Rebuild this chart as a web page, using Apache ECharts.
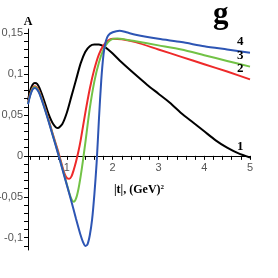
<!DOCTYPE html>
<html><head><meta charset="utf-8">
<script src="https://cdn.jsdelivr.net/npm/echarts@6/dist/echarts.min.js"></script>
<style>html,body{margin:0;padding:0;background:#fff}#c{width:278px;height:278px}</style>
</head><body><div id="c"></div>
<script>
const blackX = [0.15,0.2,0.25,0.3,0.35,0.4,0.5,0.6,0.7,0.8,0.9,1.0,1.1,1.2,1.3,1.4,1.5,1.6,1.7,1.8,1.9,2.0,2.2,2.5,2.75,3.0,3.25,3.5,3.75,4.0,4.25,4.5,4.75,5.0];
const blackY = [0.068,0.080,0.087,0.089,0.088,0.083,0.068,0.051,0.039,0.034,0.039,0.053,0.073,0.093,0.113,0.127,0.134,0.136,0.136,0.134,0.130,0.125,0.114,0.099,0.087,0.076,0.065,0.052,0.041,0.030,0.019,0.010,0.003,-0.002];
const redX = [0.15,0.2,0.25,0.3,0.35,0.4,0.5,0.6,0.7,0.8,0.85,0.9,0.95,1.0,1.05,1.1,1.15,1.2,1.25,1.3,1.4,1.5,1.6,1.7,1.8,1.9,2.0,2.2,2.5,3.0,3.5,4.0,4.5,5.0];
const redY = [0.065,0.076,0.083,0.085,0.083,0.078,0.062,0.044,0.025,0.007,-0.003,-0.013,-0.022,-0.027,-0.028,-0.025,-0.017,-0.007,0.005,0.019,0.052,0.082,0.106,0.124,0.135,0.141,0.143,0.1425,0.139,0.130,0.121,0.112,0.103,0.0935];
const greenX = [0.15,0.2,0.25,0.3,0.35,0.4,0.5,0.6,0.7,0.8,0.9,1.0,1.05,1.1,1.15,1.2,1.25,1.3,1.35,1.4,1.5,1.6,1.7,1.8,1.9,2.0,2.1,2.3,2.5,3.0,3.5,4.0,4.5,5.0];
const greenY = [0.064,0.075,0.082,0.084,0.082,0.077,0.061,0.043,0.024,0.005,-0.015,-0.035,-0.045,-0.053,-0.056,-0.052,-0.041,-0.025,-0.006,0.015,0.058,0.091,0.114,0.130,0.139,0.143,0.1435,0.142,0.140,0.135,0.130,0.123,0.116,0.109];
const blueX = [0.15,0.2,0.25,0.3,0.35,0.4,0.5,0.6,0.7,0.8,0.9,1.0,1.1,1.2,1.3,1.35,1.4,1.45,1.5,1.55,1.6,1.65,1.7,1.75,1.8,1.85,1.9,2.0,2.15,2.3,2.5,3.0,3.5,4.0,4.5,5.0];
const blueY = [0.063,0.074,0.081,0.083,0.081,0.076,0.060,0.042,0.023,0.004,-0.016,-0.036,-0.056,-0.077,-0.097,-0.105,-0.110,-0.108,-0.097,-0.078,-0.047,-0.008,0.045,0.092,0.124,0.140,0.147,0.151,0.153,0.151,0.148,0.143,0.139,0.134,0.130,0.126];
const xLabels = [1,2,3,4,5];
const yLabels = [-0.1,-0.05,0,0.05,0.1,0.15];
const curveNames = ['1','2','3','4'];

const xTicks = []; for (let i = 1; i <= 25; i++) xTicks.push(+(i*0.2).toFixed(2));
const yTicks = []; for (let i = -11; i <= 15; i++) yTicks.push(+(i*0.01).toFixed(2));
const zip = (a,b) => a.map((v,i)=>[v,b[i]]);
const fmtY = v => { if (Math.abs(v) < 1e-9) return '0'; return String(+v.toFixed(2)).replace('.', ','); };

const chart = echarts.init(document.getElementById('c'), null, {renderer:'canvas'});
const serif = 'Liberation Serif';
const GRID_BOTTOM = 28;
const lineSeries = (name, xs, ys, color, lw) => ({
  type:'line', name, data: zip(xs,ys), showSymbol:false, smooth:0.25,
  lineStyle:{color, width:lw}, z: 2,
  endLabel:{show:true, formatter:name, color:'#000', fontFamily:serif, fontWeight:'bold', fontSize:13, offset:[-21,-11]}
});
chart.setOption({
  animation:false,
  grid:{left:28, right:28, top:29, bottom:GRID_BOTTOM, outerBoundsMode:'none', containLabel:false},
  xAxis:{type:'value', min:0.15, max:5, offset:0,
    axisLine:{onZero:false, lineStyle:{color:'#000', width:1}},
    axisTick:{show:true, customValues:xTicks, length:4, lineStyle:{color:'#000'}},
    axisLabel:{customValues:xLabels, color:'#555', fontFamily:'Liberation Sans', fontSize:11, margin:7},
    splitLine:{show:false},
    name:'{a||t|, (GeV)}{s|2}', nameLocation:'middle', nameGap:28,
    nameTextStyle:{padding:[0,0,0,0], rich:{
      a:{fontFamily:serif, fontWeight:'bold', fontSize:12, color:'#000'},
      s:{fontFamily:serif, fontWeight:'bold', fontSize:7, color:'#000', verticalAlign:'top', padding:[0,0,6,0]}}}
  },
  yAxis:{type:'value', min:-0.115, max:0.155,
    axisLine:{show:true, onZero:false, lineStyle:{color:'#000', width:1}},
    axisTick:{show:true, customValues:yTicks, length:4, lineStyle:{color:'#000'}},
    axisLabel:{customValues:yLabels, formatter:fmtY, color:'#555', fontFamily:'Liberation Sans', fontSize:11, margin:5},
    splitLine:{show:false},
    name:'A', nameLocation:'end', nameGap:1,
    nameTextStyle:{fontFamily:serif, fontWeight:'bold', fontSize:12, color:'#000', align:'center', padding:[0,0,0,0]}
  },
  graphic:[{type:'text', left:213, top:-1, style:{text:'g', fontFamily:serif, fontWeight:'bold', fontSize:31, fill:'#000'}}],
  series:[
    lineSeries(curveNames[0], blackX, blackY, '#000000', 2),
    lineSeries(curveNames[1], redX, redY, '#ee2a2a', 2),
    lineSeries(curveNames[2], greenX, greenY, '#72c246', 2),
    lineSeries(curveNames[3], blueX, blueY, '#2d55b4', 2)
  ]
});
// move the x axis up to the y = 0 line
const zeroPx = chart.convertToPixel({yAxisIndex:0}, 0);
const bottomPx = chart.getHeight() - GRID_BOTTOM;
chart.setOption({xAxis:{offset: -(bottomPx - zeroPx)}});
</script></body></html>
